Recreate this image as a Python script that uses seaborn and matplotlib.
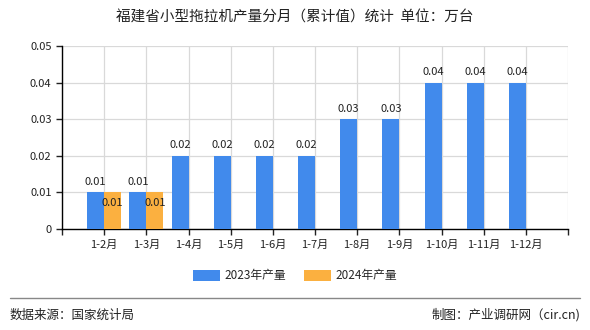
import matplotlib
matplotlib.use("Agg")
import matplotlib.pyplot as plt
import seaborn as sns
import pandas as pd
from matplotlib.lines import Line2D
from matplotlib.patches import Patch

months = ["1-2月", "1-3月", "1-4月", "1-5月", "1-6月", "1-7月", "1-8月", "1-9月", "1-10月", "1-11月", "1-12月"]
v2023 = [0.01, 0.01, 0.02, 0.02, 0.02, 0.02, 0.03, 0.03, 0.04, 0.04, 0.04]
months2024 = ["1-2月", "1-3月"]
v2024 = [0.01, 0.01]
series = ["2023年产量", "2024年产量"]
colors = ["#418AEC", "#FBB040"]
yticks = [0, 0.01, 0.02, 0.03, 0.04, 0.05]
ylabels = ["0", "0.01", "0.02", "0.03", "0.04", "0.05"]

sns.set_theme(style="white")
plt.rcParams["font.family"] = ["Noto Sans CJK SC", "DejaVu Sans"]

df = pd.DataFrame({
    "month": months + months2024,
    "value": v2023 + v2024,
    "series": [series[0]] * len(v2023) + [series[1]] * len(v2024),
})

fig = plt.figure(figsize=(5.9, 3.3), dpi=100)
ax = fig.add_axes([62/590, 1-229/330, (568-62)/590, (229-46)/330])

sns.barplot(data=df, x="month", y="value", hue="series", order=months,
            hue_order=series, palette=colors, width=0.8, saturation=1,
            ax=ax, legend=False, zorder=3, linewidth=0, edgecolor="none")

ax.set_xlim(-1, len(months))
ax.set_ylim(0, 0.05)
ax.set_yticks(yticks)
ax.set_yticklabels(ylabels)
xt = list(range(-1, len(months) + 1))
ax.set_xticks(xt)
ax.set_xticklabels([""] + months + [""])
ax.set_xlabel("")
ax.set_ylabel("")
ax.tick_params(axis="both", labelsize=8, colors="#222222", length=4, width=1,
               direction="out", bottom=True, left=True)
ax.grid(True, color="#d9d9d9", linewidth=0.9, zorder=0)
ax.set_axisbelow(True)
for s in ["top", "right"]:
    ax.spines[s].set_visible(False)
for s in ["left", "bottom"]:
    ax.spines[s].set_color("#000000")
    ax.spines[s].set_linewidth(1)

for i, cont in enumerate(ax.containers):
    labels = [f"{b.get_height():.2f}" if b.get_height() == b.get_height() else "" for b in cont]
    ax.bar_label(cont, labels=labels, padding=(4 if i == 0 else -11), fontsize=8, color="#222222")

fig.text(0.5, 1-18/330, "福建省小型拖拉机产量分月（累计值）统计  单位：万台", ha="center", va="center",
         fontsize=10.5, color="#222222")

handles = [Patch(facecolor=c, edgecolor="none") for c in colors]
fig.legend(handles, series, loc="center", bbox_to_anchor=(0.5, 1-276/330), ncol=2, frameon=False,
           fontsize=8.5, handlelength=2.3, handleheight=1.0, columnspacing=1.5, handletextpad=0.4)

fig.add_artist(Line2D([10/590, 580/590], [1-298/330, 1-298/330], color="#888888", linewidth=1))
fig.text(10/590, 1-315/330, "数据来源：国家统计局", ha="left", va="center", fontsize=9, color="#222222")
fig.text(580/590, 1-315/330, "制图：产业调研网（cir.cn)", ha="right", va="center", fontsize=9, color="#222222")

fig.savefig("out.png", dpi=100)
